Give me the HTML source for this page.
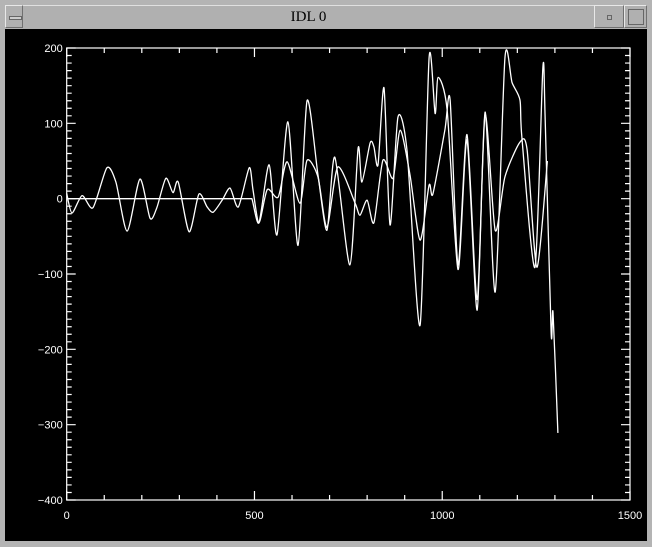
<!DOCTYPE html>
<html><head><meta charset="utf-8"><style>
html,body{margin:0;padding:0;background:#bdbdbd;}
#win{position:relative;width:652px;height:547px;background:#b4b4b4;overflow:hidden;font-family:"Liberation Sans",sans-serif;}
#title{position:absolute;left:23px;top:5px;width:571px;height:23px;background:#b0b0b0;border-top:1px solid #e0e0e0;border-bottom:1px solid #707070;text-align:center;font:15px "Liberation Serif",serif;line-height:23px;color:#000;}
.btn{position:absolute;top:5px;height:23px;background:#b0b0b0;border:1px solid #e8e8e8;border-right-color:#707070;border-bottom-color:#707070;box-sizing:border-box;}
#plot{position:absolute;left:5px;top:29px;width:642px;height:512px;background:#000;}
</style></head><body>
<div id="win">
<div class="btn" style="left:5px;width:18px"><div style="position:absolute;left:3px;top:10px;width:11px;height:2px;border:1px solid #666;background:#ccc"></div></div>
<div id="title">IDL 0</div>
<div class="btn" style="left:594px;width:30px"><div style="position:absolute;left:12px;top:9px;width:3px;height:3px;border:1px solid #666"></div></div>
<div class="btn" style="left:624px;width:23px"><div style="position:absolute;left:3px;top:3px;width:14px;height:14px;border:1px solid #666"></div></div>
<div id="plot"></div>
<svg id="chart" width="652" height="547" style="position:absolute;left:0;top:0"></svg>
</div>
<script>
const xTicks=[0,500,1000,1500];
const yTicks=[200,100,0,-100,-200,-300,-400];
const seriesAx=[0,480,493,512,539,560,589,616,640,669,693,714,754,776,786,808,818,829,845,861,882,906,941,965,981,989,1013,1042,1066,1093,1114,1141,1167,1186,1207,1212,1247,1268,1274,1290,1295,1308];
const seriesAy=[0,0,0,-32,45,-48,102,-62,130,32,-42,55,-88,67,22,74,69,45,147,-35,108,65,-168,187,113,161,118,-94,78,-148,115,-124,187,154,131,82,-91,174,108,-178,-151,-311];
const seriesBx=[0,14,41,70,107,131,161,195,222,240,264,283,297,326,352,374,390,414,435,457,486,496,512,534,563,587,621,640,669,693,722,768,781,800,818,842,869,888,914,941,965,975,1007,1021,1042,1066,1093,1114,1141,1167,1207,1226,1252,1280];
const seriesBy=[7,-19,4,-12,41,22,-43,26,-26,-12,27,8,22,-44,6,-11,-18,-2,14,-11,41,12,-32,12,2,49,-6,51,29,-38,42,-6,-22,-2,-32,51,27,91,32,-55,18,6,91,131,-88,85,-134,111,-42,29,75,65,-91,50];
const NS='http://www.w3.org/2000/svg';
const svg=document.getElementById('chart');
const X0=66.7,X1=630,Y0=48,Y1=500;
const sx=v=>X0+(v-0)/(1500)*(X1-X0);
const sy=v=>Y0+(200-v)/600*(Y1-Y0);
function mk(t,a){const e=document.createElementNS(NS,t);for(const k in a)e.setAttribute(k,a[k]);svg.appendChild(e);return e;}
const box=mk('rect',{x:X0,y:Y0,width:X1-X0,height:Y1-Y0,fill:'none',stroke:'#fff','stroke-width':1.2});


for(let v=0;v<=1500;v+=100){const x=sx(v),L=(v%500===0)?9:5;
 const t=mk('path',{d:`M${x},${Y1}V${Y1-L}M${x},${Y0}V${Y0+L}`,stroke:'#fff','stroke-width':1.2});
 
 }
for(let v=-400;v<=200;v+=10){const y=sy(v),L=(v%100===0)?9:5;
 const t=mk('path',{d:`M${X0},${y}H${X0+L}M${X1},${y}H${X1-L}`,stroke:'#fff','stroke-width':1.2});
 
 }
xTicks.forEach(v=>{const t=mk('text',{x:sx(v),y:Y1+19,fill:'#fff','font-size':11,'text-anchor':'middle','font-family':'Liberation Sans, sans-serif'});t.textContent=v;
 
 });
yTicks.forEach(v=>{const t=mk('text',{x:X0-4,y:sy(v)+4,fill:'#fff','font-size':11,'text-anchor':'end','font-family':'Liberation Sans, sans-serif'});t.textContent=(v<0?'\u2212'+(-v):v);
 
 });
function path(xs,ys){const p=xs.map((x,i)=>[sx(x),sy(ys[i])]);let d=`M${p[0][0]},${p[0][1]}`;
 for(let i=0;i<p.length-1;i++){const a=p[Math.max(0,i-1)],b=p[i],c=p[i+1],e=p[Math.min(p.length-1,i+2)];
  if(b[1]===c[1]&&(a[1]===b[1]||e[1]===c[1])){d+=`L${c[0]},${c[1]}`;continue;}
  d+=`C${b[0]+(c[0]-a[0])/8},${b[1]+(c[1]-a[1])/8} ${c[0]-(e[0]-b[0])/8},${c[1]-(e[1]-b[1])/8} ${c[0]},${c[1]}`;}
 return d;}
const la=mk('path',{d:path(seriesAx,seriesAy),fill:'none',stroke:'#fff','stroke-width':1.3});


const lb=mk('path',{d:path(seriesBx,seriesBy),fill:'none',stroke:'#fff','stroke-width':1.3});


</script>
</body></html>
